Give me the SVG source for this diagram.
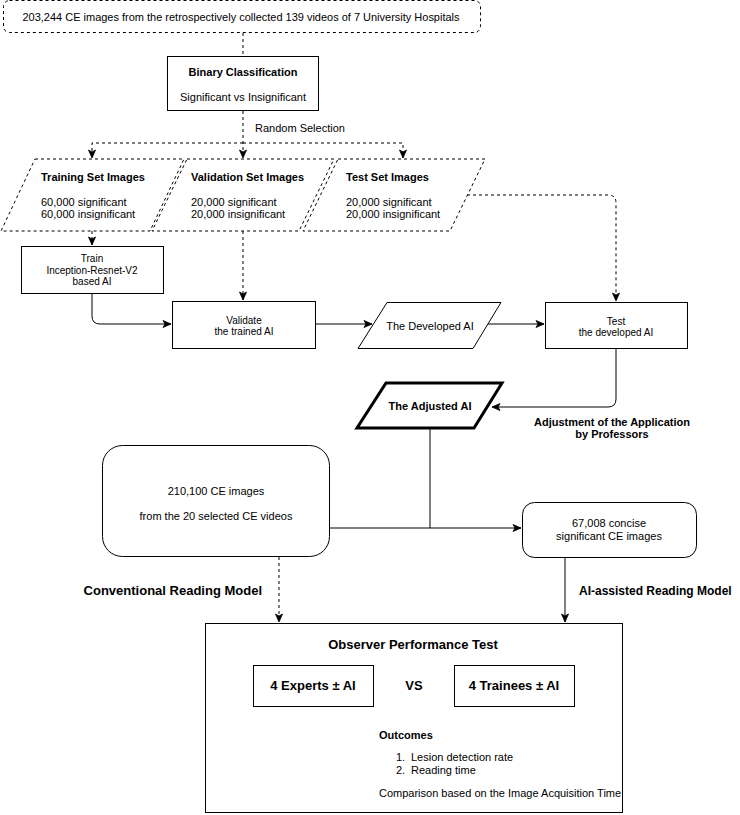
<svg xmlns="http://www.w3.org/2000/svg" width="740" height="815" viewBox="0 0 740 815">
<defs>
<style>
text{font-family:"Liberation Sans",Arial,Helvetica,sans-serif;fill:#000}
.b{font-weight:bold}
.s10{font-size:10px}.s11{font-size:11px}.s12{font-size:12px}.s13{font-size:13px}
.box{fill:#fff;stroke:#000;stroke-width:1}
.dbox{fill:#fff;stroke:#000;stroke-width:1;stroke-dasharray:3 3}
.c{fill:none;stroke:#000;stroke-width:1}
.d{stroke-dasharray:3 3}
</style>
<marker id="ar" markerUnits="userSpaceOnUse" markerWidth="10" markerHeight="10" viewBox="0 0 10 10" refX="9" refY="5" orient="auto">
<path d="M1,1.5 L9,5 L1,8.5 L3,5 z" fill="#000" stroke="#000" stroke-width="0.8"/>
</marker>
</defs>
<g id="connectors">
<path class="c d" d="M243,33 V56"/>
<path class="c d" d="M243,111 V158" marker-end="url(#ar)"/>
<path class="c d" d="M243,143 H92 V158" marker-end="url(#ar)"/>
<path class="c d" d="M243,143 H403 V158" marker-end="url(#ar)"/>
<path class="c d" d="M92,231 V245" marker-end="url(#ar)"/>
<path class="c d" d="M243,231 V300" marker-end="url(#ar)"/>
<path class="c" d="M92,293 V316 Q92,324 100,324 H171" marker-end="url(#ar)"/>
<path class="c" d="M315,324 H372" marker-end="url(#ar)"/>
<path class="c" d="M487,324 H544" marker-end="url(#ar)"/>
<path class="c d" d="M467,195 H608 Q616,195 616,203 V301" marker-end="url(#ar)"/>
<path class="c" d="M616,349 V399 Q616,407 608,407 H492" marker-end="url(#ar)"/>
<path class="c" d="M430,429 V528"/>
<path class="c" d="M329,528 H521" marker-end="url(#ar)"/>
<path class="c d" d="M279,557 V622" marker-end="url(#ar)"/>
<path class="c" d="M565,557 V622" marker-end="url(#ar)"/>
</g>
<g id="source">
<rect class="dbox" x="3.5" y="0.5" width="477" height="32" rx="6"/>
<text class="s11" x="241" y="21" text-anchor="middle" textLength="437" lengthAdjust="spacingAndGlyphs">203,244 CE images from the retrospectively collected 139 videos of 7 University Hospitals</text>
</g>
<g id="binary">
<rect class="box" x="167.5" y="56.5" width="151" height="54"/>
<text class="s11 b" x="243" y="76" text-anchor="middle">Binary Classification</text>
<text class="s11" x="243" y="101" text-anchor="middle">Significant vs Insignificant</text>
</g>
<g id="random-label">
<text class="s11" x="255" y="132">Random Selection</text>
</g>
<g id="training-set">
<polygon class="dbox" points="35,159 184,159 150,231 1,231" fill="none"/>
<text class="s11 b" x="41" y="180.5">Training Set Images</text>
<text class="s11" x="41" y="206">60,000 significant</text>
<text class="s11" x="41" y="218">60,000 insignificant</text>
</g>
<g id="validation-set">
<polygon class="dbox" points="187,159 334,159 299,231 152,231" fill="none"/>
<text class="s11 b" x="191" y="180.5">Validation Set Images</text>
<text class="s11" x="191" y="206">20,000 significant</text>
<text class="s11" x="191" y="218">20,000 insignificant</text>
</g>
<g id="test-set">
<polygon class="dbox" points="338,159 485,159 450,231 303,231" fill="none"/>
<text class="s11 b" x="346" y="180.5">Test Set Images</text>
<text class="s11" x="346" y="206">20,000 significant</text>
<text class="s11" x="346" y="218">20,000 insignificant</text>
</g>
<g id="train">
<rect class="box" x="21.5" y="246.5" width="142" height="47"/>
<text class="s10" x="92" y="261.5" text-anchor="middle">Train</text>
<text class="s10" x="92" y="273.5" text-anchor="middle">Inception-Resnet-V2</text>
<text class="s10" x="92" y="284.5" text-anchor="middle">based AI</text>
</g>
<g id="validate">
<rect class="box" x="172.5" y="301.5" width="143" height="47"/>
<text class="s10" x="244" y="323.5" text-anchor="middle">Validate</text>
<text class="s10" x="244" y="334.5" text-anchor="middle">the trained AI</text>
</g>
<g id="developed">
<polygon class="box" points="387,302.5 501,302.5 473,348.5 358,348.5"/>
<text class="s11" x="430" y="330" text-anchor="middle">The Developed AI</text>
</g>
<g id="test">
<rect class="box" x="545.5" y="302.5" width="142" height="46"/>
<text class="s10" x="616" y="324.5" text-anchor="middle">Test</text>
<text class="s10" x="616" y="335.5" text-anchor="middle">the developed AI</text>
</g>
<g id="adjusted">
<polygon points="386,383 502,383 474,428 357,428" fill="#fff" stroke="#000" stroke-width="3"/>
<text class="s11 b" x="430" y="410" text-anchor="middle">The Adjusted AI</text>
</g>
<g id="adjustment-label">
<text class="s11 b" x="612" y="426" text-anchor="middle">Adjustment of the Application</text>
<text class="s11 b" x="612" y="438" text-anchor="middle">by Professors</text>
</g>
<g id="ce-images">
<rect class="box" x="102.5" y="445.5" width="227" height="111" rx="20"/>
<text class="s11" x="216" y="495" text-anchor="middle">210,100 CE images</text>
<text class="s11" x="216" y="520" text-anchor="middle">from the 20 selected CE videos</text>
</g>
<g id="concise">
<rect class="box" x="522.5" y="502.5" width="174" height="55" rx="12"/>
<text class="s11" x="609" y="527" text-anchor="middle">67,008 concise</text>
<text class="s11" x="609" y="540" text-anchor="middle">significant CE images</text>
</g>
<g id="model-labels">
<text class="s13 b" x="262" y="594.5" text-anchor="end">Conventional Reading Model</text>
<text class="s12 b" x="579" y="594.5">AI-assisted Reading Model</text>
</g>
<g id="observer">
<rect class="box" x="205.5" y="623.5" width="417" height="189"/>
<text class="s13 b" x="413" y="648.5" text-anchor="middle">Observer Performance Test</text>
<text class="s13 b" x="414" y="689.5" text-anchor="middle">VS</text>
<text class="s11 b" x="379" y="738.5">Outcomes</text>
<text class="s11" x="396" y="761">1.</text>
<text class="s11" x="411" y="761">Lesion detection rate</text>
<text class="s11" x="396" y="774">2.</text>
<text class="s11" x="411" y="774">Reading time</text>
<text class="s11" x="379" y="797">Comparison based on the Image Acquisition Time</text>
</g>
<g id="experts">
<rect class="box" x="253.5" y="665.5" width="120" height="41"/>
<text class="s13 b" x="313" y="689.5" text-anchor="middle">4 Experts ± AI</text>
</g>
<g id="trainees">
<rect class="box" x="454.5" y="665.5" width="120" height="41"/>
<text class="s13 b" x="514" y="689.5" text-anchor="middle">4 Trainees ± AI</text>
</g>
</svg>
